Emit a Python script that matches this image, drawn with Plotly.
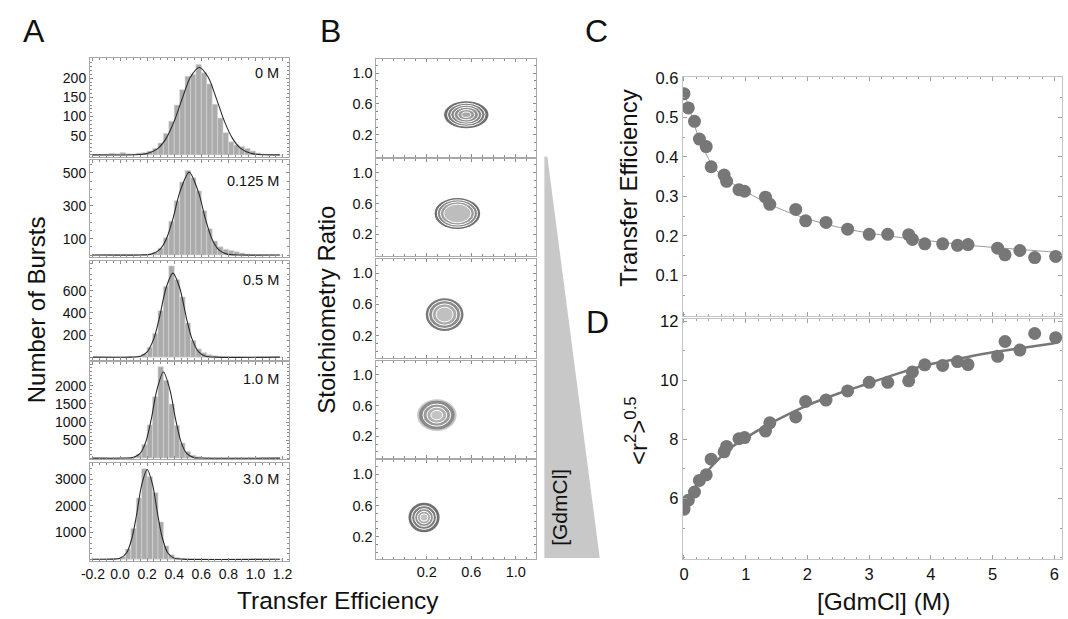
import plotly.graph_objects as go

W, H = 1068, 619
FONT = "Arial, Liberation Sans, sans-serif"


def fx(px):
    return px / W


def fy(py):
    return 1 - py / H


# ---------------- data ----------------
conc_labels = ["0 M", "0.125 M", "0.5 M", "1.0 M", "3.0 M"]

bin_centers = [-0.18, -0.14, -0.10, -0.06, -0.02, 0.02, 0.06, 0.10, 0.14, 0.18,
               0.22, 0.26, 0.30, 0.34, 0.38, 0.42, 0.46, 0.50, 0.54, 0.58,
               0.62, 0.66, 0.70, 0.74, 0.78, 0.82, 0.86, 0.90, 0.94, 0.98,
               1.02, 1.06, 1.10, 1.14, 1.18]
bin_width = 0.04

counts_0M = [0, 1, 2, 4, 3, 6, 3, 2, 5, 6, 10, 17, 31, 56, 88, 130, 170, 205, 210, 236,
             214, 185, 132, 96, 58, 34, 26, 22, 17, 10, 5, 2, 1, 0, 0]
counts_0125M = [0, 2, 3, 4, 3, 4, 3, 3, 3, 3, 6, 16, 42, 105, 205, 330, 445, 515, 470, 390,
                270, 160, 85, 50, 35, 28, 20, 12, 6, 3, 1, 0, 0, 0, 0]
counts_05M = [0, 0, 1, 1, 2, 3, 4, 5, 8, 30, 90, 215, 420, 640, 825, 700, 545, 310, 150, 75,
              40, 22, 12, 6, 3, 2, 1, 1, 0, 0, 0, 0, 0, 0, 0]
counts_1M = [0, 1, 1, 2, 3, 5, 10, 30, 110, 380, 920, 1700, 2530, 2150, 1500, 900, 420, 180, 80, 35,
             15, 6, 3, 1, 0, 0, 0, 0, 0, 0, 0, 0, 0, 0, 0]
counts_3M = [0, 1, 3, 8, 25, 95, 380, 1150, 2300, 3400, 3100, 2500, 1400, 500, 170, 60, 20, 8, 3, 1,
             0, 0, 0, 0, 0, 0, 0, 0, 0, 0, 0, 0, 0, 0, 0]
hist_counts = [counts_0M, counts_0125M, counts_05M, counts_1M, counts_3M]

# fitted curves
fit_x_0M = [-0.2, 0.1, 0.2, 0.28, 0.34, 0.40, 0.46, 0.52, 0.585, 0.65, 0.71, 0.77, 0.83, 0.89, 0.97, 1.18]
fit_y_0M = [0, 0.3, 3.7, 17, 43, 88, 148, 203, 228, 203, 148, 88, 43, 17, 3.7, 0]
fit_x_0125M = [-0.2, 0.15, 0.23, 0.29, 0.34, 0.39, 0.44, 0.51, 0.58, 0.63, 0.68, 0.73, 0.79, 0.87, 1.18]
fit_y_0125M = [0, 0.3, 5.5, 31, 95, 220, 380, 505, 380, 220, 95, 31, 5.5, 0.3, 0]
fit_x_05M = [-0.2, 0.08, 0.15, 0.20, 0.25, 0.29, 0.34, 0.39, 0.44, 0.49, 0.53, 0.58, 0.63, 0.70, 1.18]
fit_y_05M = [0, 0.5, 9, 48, 170, 354, 628, 760, 628, 354, 170, 48, 9, 0.5, 0]
fit_x_1M = [-0.2, 0.04, 0.10, 0.15, 0.19, 0.23, 0.27, 0.32, 0.37, 0.41, 0.45, 0.49, 0.54, 0.60, 1.18]
fit_y_1M = [0, 1, 20, 137, 449, 1071, 1864, 2388, 1864, 1071, 449, 137, 20, 1, 0]
fit_x_3M = [-0.2, -0.06, 0.0, 0.05, 0.09, 0.12, 0.16, 0.20, 0.24, 0.28, 0.31, 0.35, 0.40, 0.46, 1.18]
fit_y_3M = [0, 1.4, 34, 253, 839, 1614, 2804, 3370, 2804, 1614, 839, 253, 34, 1.4, 0]
fit_xs = [fit_x_0M, fit_x_0125M, fit_x_05M, fit_x_1M, fit_x_3M]
fit_ys = [fit_y_0M, fit_y_0125M, fit_y_05M, fit_y_1M, fit_y_3M]

hist_ytickvals = [[50, 100, 150, 200], [100, 300, 500], [200, 400, 600],
                  [500, 1000, 1500, 2000], [1000, 2000, 3000]]
hist_yranges = [[-5, 252], [-14, 580], [-24, 867], [-35, 2669], [-63, 3604]]
hist_ytick_minor = [10, 50, 50, 100, 200]
eff_tickvals = [-0.2, 0.0, 0.2, 0.4, 0.6, 0.8, 1.0, 1.2]
eff_ticktext = ["-0.2", "0.0", "0.2", "0.4", "0.6", "0.8", "1.0", "1.2"]

# 2D E-S histograms (centre and half-widths of the populations)
blob_E = [0.555, 0.475, 0.36, 0.29, 0.175]
blob_S = [0.46, 0.47, 0.47, 0.475, 0.445]
blob_rE = [0.20, 0.205, 0.17, 0.178, 0.14]
blob_rS = [0.175, 0.20, 0.21, 0.205, 0.19]
es_tickvals = [0.2, 0.6, 1.0]
es_ticktext = ["0.2", "0.6", "1.0"]

# denaturant series
gdmcl = [0.0, 0.07, 0.17, 0.25, 0.36, 0.44, 0.65, 0.69, 0.89, 0.98, 1.32, 1.39, 1.81, 1.97,
         2.30, 2.65, 3.00, 3.30, 3.64, 3.70, 3.90, 4.19, 4.43, 4.60, 5.08, 5.20, 5.44, 5.68, 6.02]
transfer_eff = [0.560, 0.524, 0.490, 0.445, 0.426, 0.375, 0.354, 0.338, 0.317, 0.313, 0.298,
                0.280, 0.267, 0.238, 0.234, 0.217, 0.204, 0.204, 0.203, 0.191, 0.180, 0.180,
                0.176, 0.178, 0.169, 0.152, 0.163, 0.145, 0.148]
r_rms = [5.64, 5.94, 6.22, 6.61, 6.80, 7.33, 7.58, 7.76, 8.02, 8.06, 8.28, 8.56, 8.76, 9.28,
         9.33, 9.64, 9.93, 9.93, 9.98, 10.28, 10.52, 10.50, 10.63, 10.53, 10.81, 11.31, 11.02,
         11.58, 11.44]
fitC_x = [0, 0.1, 0.25, 0.5, 0.75, 1.0, 1.5, 2.0, 2.5, 3.0, 3.5, 4.0, 4.5, 5.0, 5.5, 6.0, 6.1]
fitC_y = [0.565, 0.515, 0.445, 0.37, 0.337, 0.312, 0.272, 0.243, 0.222, 0.207, 0.196, 0.187,
          0.178, 0.171, 0.165, 0.159, 0.158]
fitD_x = [0, 0.1, 0.25, 0.5, 0.75, 1.0, 1.5, 2.0, 2.5, 3.0, 3.5, 4.0, 4.5, 5.0, 5.5, 6.0]
fitD_y = [5.7, 6.1, 6.6, 7.2, 7.7, 8.05, 8.65, 9.15, 9.55, 9.9, 10.25, 10.55, 10.75, 10.95,
          11.1, 11.25]

# ---------------- layout geometry ----------------
rowsA = [(50, 150), (153, 252), (256, 356), (358, 457), (461, 560)]
rowsB = [(51, 150), (152, 251), (254, 354), (357, 456), (458, 558)]
colA = (82, 283)
colB = (372, 533)

fig = go.Figure()
layout = dict(width=W, height=H, margin=dict(l=0, r=0, t=0, b=0, pad=0),
              paper_bgcolor="white", plot_bgcolor="white", showlegend=False,
              font=dict(family=FONT, color="#111"))

FRAME_A = "#a8a8a8"
TICK_A = "#8c8c8c"


def axname(n, kind):
    return kind + ("" if n == 1 else str(n))


shapes = []
annotations = []

# ---------- Panel A ----------
for i in range(5):
    n = i + 1
    xa, ya = axname(n, "x"), axname(n, "y")
    fig.add_trace(go.Bar(x=bin_centers, y=hist_counts[i], width=bin_width,
                         marker=dict(color="#ababab", line=dict(color="#d6d6d6", width=0.6)),
                         xaxis=xa, yaxis=ya, hoverinfo="skip"))
    fig.add_trace(go.Scatter(x=fit_xs[i], y=fit_ys[i], mode="lines",
                             line=dict(color="#2a2a2a", width=1.1, shape="spline", smoothing=0.8),
                             xaxis=xa, yaxis=ya, hoverinfo="skip"))
    top, bot = rowsA[i]
    layout[axname(n, "xaxis")] = dict(
        domain=[fx(colA[0]), fx(colA[1])], anchor=ya, range=[-0.222, 1.244],
        showline=True, linecolor=FRAME_A, linewidth=1, mirror="ticks",
        ticks="inside", ticklen=3, tickcolor=TICK_A,
        tickvals=eff_tickvals, ticktext=eff_ticktext, showticklabels=(i == 4),
        minor=dict(ticks="inside", ticklen=2, dtick=0.05, tick0=0, tickcolor=TICK_A),
        showgrid=False, zeroline=False, tickfont=dict(size=14, family=FONT, color="#111"))
    layout[axname(n, "yaxis")] = dict(
        domain=[fy(bot), fy(top)], anchor=xa, range=hist_yranges[i],
        showline=True, linecolor=FRAME_A, linewidth=1, mirror="ticks",
        ticks="inside", ticklen=3, tickcolor=TICK_A, tickvals=hist_ytickvals[i],
        minor=dict(ticks="inside", ticklen=2, dtick=hist_ytick_minor[i], tick0=0, tickcolor=TICK_A),
        showgrid=False, zeroline=False, tickfont=dict(size=14, family=FONT, color="#111"))

label_y = [65, 175, 275, 375, 477]
for i in range(5):
    annotations.append(dict(text=conc_labels[i], xref="paper", yref="paper",
                            x=fx(275), y=fy(label_y[i]), xanchor="right", yanchor="middle",
                            showarrow=False, font=dict(size=14.5, family=FONT, color="#111")))

# ---------- Panel B ----------
ring_styles = [
    [(1.0, "#6f6f6f", None), (0.85, "#7b7b7b", "white"), (0.7, "#868686", "white"),
     (0.55, "#909090", "white"), (0.38, "#9a9a9a", "white"), (0.2, "#a8a8a8", "white")],
    [(1.0, "#6f6f6f", None), (0.88, "#8a8a8a", "white"), (0.75, "#9c9c9c", "white"),
     (0.6, "#bdbdbd", "white")],
    [(1.0, "#7a7a7a", None), (0.85, "#8e8e8e", "white"), (0.65, "#aaaaaa", "white"),
     (0.45, "#c0c0c0", "white")],
    [(1.0, "#c8c8c8", None), (0.9, "#8a8a8a", None), (0.7, "#9a9a9a", "white"),
     (0.5, "#b0b0b0", "white"), (0.3, "#c4c4c4", "white")],
    [(1.0, "#707070", None), (0.8, "#808080", "white"), (0.6, "#929292", "white"),
     (0.42, "#a8a8a8", "white"), (0.25, "#c2c2c2", "white")],
]
for i in range(5):
    n = i + 6
    xa, ya = axname(n, "x"), axname(n, "y")
    fig.add_trace(go.Scatter(x=[blob_E[i]], y=[blob_S[i]], mode="markers",
                             marker=dict(opacity=0), xaxis=xa, yaxis=ya, hoverinfo="skip"))
    top, bot = rowsB[i]
    layout[axname(n, "xaxis")] = dict(
        domain=[fx(colB[0]), fx(colB[1])], anchor=ya, range=[-0.253, 1.178],
        showline=True, linecolor=FRAME_A, linewidth=1, mirror="ticks",
        ticks="inside", ticklen=3, tickcolor=TICK_A,
        tickvals=es_tickvals, ticktext=es_ticktext, showticklabels=(i == 4),
        minor=dict(ticks="inside", ticklen=2, dtick=0.1, tick0=0, tickcolor=TICK_A),
        showgrid=False, zeroline=False, tickfont=dict(size=14.5, family=FONT, color="#111"))
    layout[axname(n, "yaxis")] = dict(
        domain=[fy(bot), fy(top)], anchor=xa, range=[-0.085, 1.178],
        showline=True, linecolor=FRAME_A, linewidth=1, mirror="ticks",
        ticks="inside", ticklen=3, tickcolor=TICK_A,
        tickvals=es_tickvals, ticktext=es_ticktext,
        minor=dict(ticks="inside", ticklen=2, dtick=0.1, tick0=0, tickcolor=TICK_A),
        showgrid=False, zeroline=False, tickfont=dict(size=14.5, family=FONT, color="#111"))
    for s, fill, lc in ring_styles[i]:
        shapes.append(dict(type="circle", xref=xa, yref=ya,
                           x0=blob_E[i] - blob_rE[i] * s, x1=blob_E[i] + blob_rE[i] * s,
                           y0=blob_S[i] - blob_rS[i] * s, y1=blob_S[i] + blob_rS[i] * s,
                           fillcolor=fill,
                           line=dict(color=lc if lc else fill, width=1 if lc else 0)))

# wedge
shapes.append(dict(type="path", xref="paper", yref="paper",
                   path=f"M {fx(542)},{fy(150)} L {fx(545)},{fy(150)} L {fx(598)},{fy(557)} "
                        f"L {fx(542)},{fy(557)} Z",
                   fillcolor="#c8c8c8", line=dict(width=0)))
annotations.append(dict(text="[GdmCl]", xref="paper", yref="paper", x=fx(557), y=fy(506),
                        textangle=-90, showarrow=False, xanchor="center", yanchor="middle",
                        font=dict(size=21, family=FONT, color="#111")))

# ---------- Panels C and D ----------
FRAME_C = "#c4c4c4"
TICK_C = "#a0a0a0"
fig.add_trace(go.Scatter(x=fitC_x, y=fitC_y, mode="lines",
                         line=dict(color="#9a9a9a", width=1, shape="spline"),
                         xaxis="x11", yaxis="y11", hoverinfo="skip"))
fig.add_trace(go.Scatter(x=gdmcl, y=transfer_eff, mode="markers",
                         marker=dict(color="#777777", size=13),
                         xaxis="x11", yaxis="y11", hoverinfo="skip"))
fig.add_trace(go.Scatter(x=fitD_x, y=fitD_y, mode="lines",
                         line=dict(color="#777777", width=2.5, shape="spline"),
                         xaxis="x12", yaxis="y12", hoverinfo="skip"))
fig.add_trace(go.Scatter(x=gdmcl, y=r_rms, mode="markers",
                         marker=dict(color="#777777", size=13),
                         xaxis="x12", yaxis="y12", hoverinfo="skip"))

colC = (682, 1066)
common_x = dict(domain=[fx(colC[0]), fx(colC[1])], range=[-0.021, 6.123],
                showline=True, linecolor=FRAME_C, linewidth=1, mirror="ticks",
                ticks="inside", ticklen=4, tickcolor=TICK_C, dtick=1, tick0=0,
                minor=dict(ticks="inside", ticklen=2, dtick=0.2, tick0=0, tickcolor=TICK_C),
                showgrid=False, zeroline=False,
                tickfont=dict(size=16.5, family=FONT, color="#111"))
layout["xaxis11"] = dict(common_x, anchor="y11", showticklabels=False)
layout["xaxis12"] = dict(common_x, anchor="y12", showticklabels=True)
layout["yaxis11"] = dict(domain=[fy(312), fy(69.5)], anchor="x11", range=[-0.004, 0.601],
                         showline=True, linecolor=FRAME_C, linewidth=1, mirror="ticks",
                         ticks="inside", ticklen=4, tickcolor=TICK_C,
                         tickvals=[0.1, 0.2, 0.3, 0.4, 0.5, 0.6],
                         minor=dict(ticks="inside", ticklen=2, dtick=0.05, tick0=0, tickcolor=TICK_C),
                         showgrid=False, zeroline=False,
                         tickfont=dict(size=16.5, family=FONT, color="#111"))
layout["yaxis12"] = dict(domain=[fy(558), fy(315)], anchor="x12", range=[3.957, 12.057],
                         showline=True, linecolor=FRAME_C, linewidth=1, mirror="ticks",
                         ticks="inside", ticklen=4, tickcolor=TICK_C,
                         tickvals=[6, 8, 10, 12],
                         minor=dict(ticks="inside", ticklen=2, dtick=1, tick0=0, tickcolor=TICK_C),
                         showgrid=False, zeroline=False,
                         tickfont=dict(size=16.5, family=FONT, color="#111"))


# ---------- titles and panel letters ----------
def ann(text, px, py, size, angle=0):
    annotations.append(dict(text=text, xref="paper", yref="paper", x=fx(px), y=fy(py),
                            xanchor="center", yanchor="middle", textangle=angle,
                            showarrow=False, font=dict(size=size, family=FONT, color="#111")))


ann("A", 25, 22, 32)
ann("B", 325, 22, 32)
ann("C", 595, 22, 32)
ann("D", 596, 318, 32)
ann("Number of Bursts", 28, 305, 24, -90)
ann("Transfer Efficiency", 333, 600, 24.5)
ann("Stoichiometry Ratio", 321, 305, 24, -90)
ann("Transfer Efficiency", 627, 182, 24, -90)
ann("&lt;r<sup>2</sup>&gt;<sup>0.5</sup>", 635, 428, 24, -90)
ann("[GdmCl] (M)", 885, 601, 24.5)

layout["shapes"] = shapes
layout["annotations"] = annotations
fig.update_layout(**layout)
fig.write_html("out.html", config={"displayModeBar": False},
               post_script="document.body.style.margin='0';document.body.style.padding='0';"
                           "document.body.style.overflow='hidden';")
